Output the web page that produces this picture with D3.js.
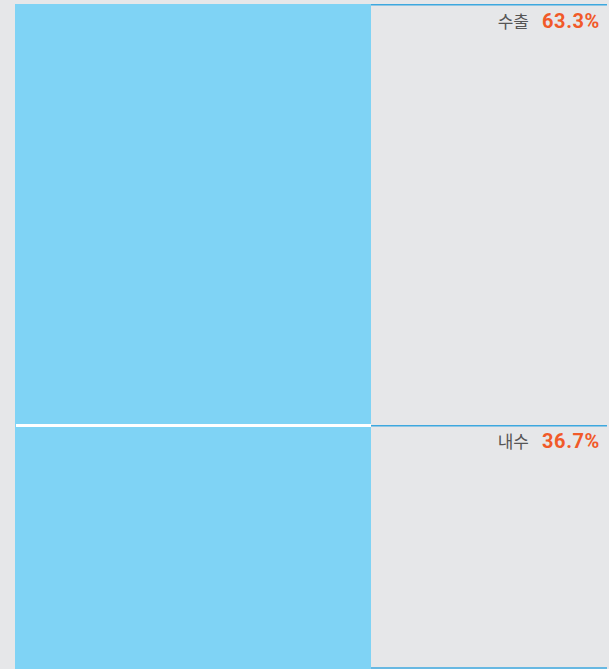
<!DOCTYPE html>
<html><head><meta charset="utf-8">
<script src="https://cdn.jsdelivr.net/npm/d3@7"></script>
<style>
html,body{margin:0;padding:0;background:#e6e7e9;}
svg{display:block;}
</style></head>
<body>
<svg id="c" width="609" height="669"></svg>
<script>
const categories = ["수출", "내수"];
const values = [63.3, 36.7];
const valueLabels = ["63.3%", "36.7%"];

const W = 609, H = 669;
const svg = d3.select("#c");
svg.append("rect").attr("width", W).attr("height", H).attr("fill", "#e6e7e9");

let acc = 0;
const segs = categories.map((c, i) => {
  const s = {cat: c, v: values[i], label: valueLabels[i], start: acc, end: acc + values[i]};
  acc += values[i];
  return s;
});

const y = d3.scaleLinear().domain([0, 100]).range([4, 669]);
const x = d3.scaleBand().domain(["share"]).range([15, 371]).padding(0);
const lineEnd = 607;

svg.selectAll("rect.seg").data(segs).join("rect")
  .attr("class", "seg")
  .attr("x", x("share"))
  .attr("width", x.bandwidth())
  .attr("y", d => y(d.start))
  .attr("height", d => y(d.end) - y(d.start))
  .attr("fill", "#7fd3f5");

// white separators between segments
svg.selectAll("line.sep").data(segs.slice(1)).join("line")
  .attr("class", "sep")
  .attr("x1", x("share") + 1).attr("x2", x("share") + x.bandwidth())
  .attr("y1", d => y(d.start) + 0.5).attr("y2", d => y(d.start) + 0.5)
  .attr("stroke", "#ffffff").attr("stroke-width", 3);

// blue rule lines on the right
const ruleYs = segs.map(d => y(d.start) + 0.8).concat([y(100) - 1]);
svg.selectAll("line.rule").data(ruleYs).join("line")
  .attr("class", "rule")
  .attr("x1", x("share") + x.bandwidth()).attr("x2", lineEnd)
  .attr("y1", d => d).attr("y2", d => d)
  .attr("stroke", "#3da8df").attr("stroke-width", 1.6);

// labels
const g = svg.selectAll("g.lab").data(segs).join("g").attr("class", "lab")
  .attr("transform", d => `translate(600, ${y(d.start) + 23.5})`);
g.append("text")
  .attr("text-anchor", "end")
  .attr("font-family", "Roboto, 'DejaVu Sans', sans-serif")
  .attr("font-weight", "bold")
  .attr("font-size", 20)
  .attr("letter-spacing", 0.6)
  .attr("fill", "#f15a29")
  .text(d => d.label);
g.append("text")
  .attr("x", -71)
  .attr("text-anchor", "end")
  .attr("font-family", "'Noto Sans CJK KR', sans-serif")
  .attr("font-size", 17)
  .attr("fill", "#555555")
  .text(d => d.cat);
</script>
</body></html>
